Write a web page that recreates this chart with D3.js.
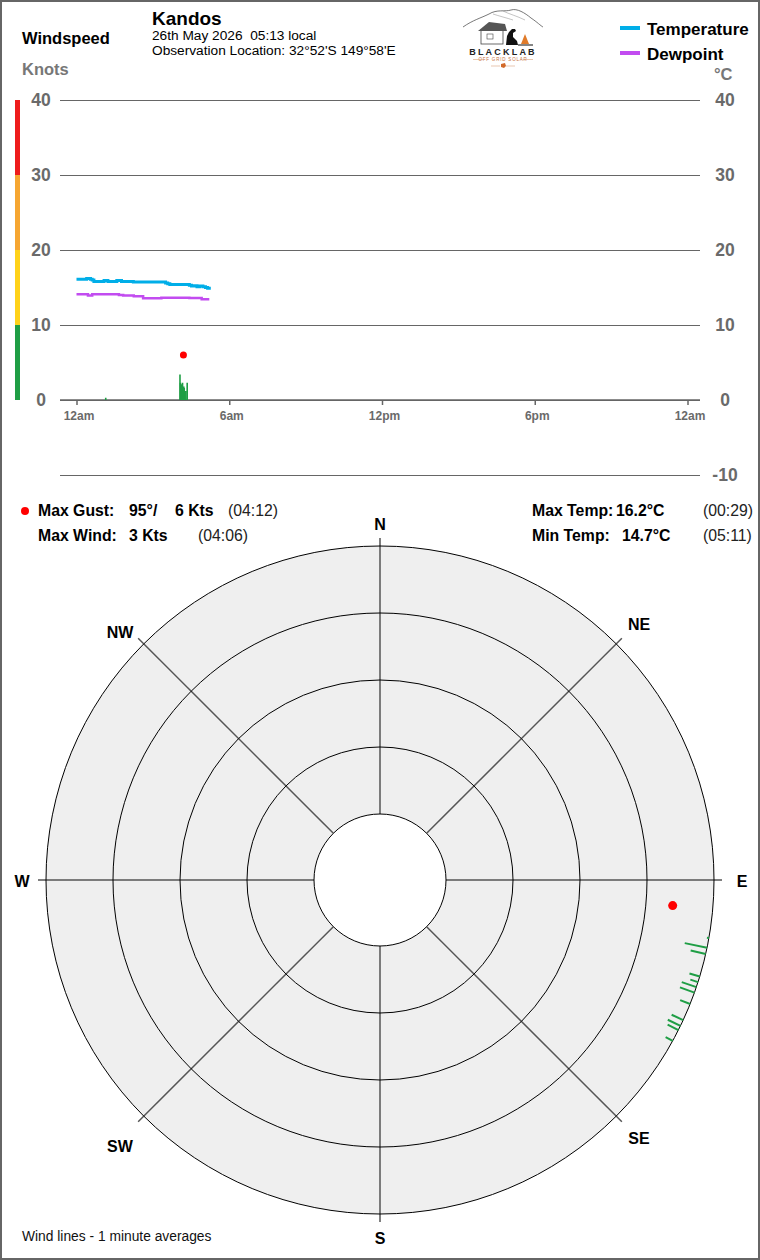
<!DOCTYPE html>
<html>
<head>
<meta charset="utf-8">
<script src="https://cdn.jsdelivr.net/npm/d3@7"></script>
<style>
  html, body { margin: 0; padding: 0; background: #fff; }
  svg { display: block; }
  text { font-family: "Liberation Sans", Arial, sans-serif; white-space: pre; }
</style>
</head>
<body>
<script>
// ---------------- DATA ----------------
const stationName = "Kandos";
const dateLine = "26th May 2026  05:13 local";
const locationLine = "Observation Location: 32°52'S 149°58'E";

const speedTicks = [0, 10, 20, 30, 40];
const tempTicks = [-10, 0, 10, 20, 30, 40];
const bandColors = ["#1f9e45", "#ffd21a", "#f6a631", "#ee1c1c"]; // 0-10,10-20,20-30,30-40

const hourTicks = [0, 6, 12, 18, 24];
const hourLabels = ["12am", "6am", "12pm", "6pm", "12am"];

const tempTimes = ["00:00","00:20","00:24","00:33","00:37","00:41","01:05","01:14","01:35","01:46","02:14","03:30","03:35","03:40","04:26","04:31","04:38","04:44","04:50","04:58","05:04","05:09","05:13"];
const tempValues = [16.1,16.1,16.2,16.1,16.0,15.8,15.95,15.8,15.95,15.8,15.75,15.6,15.5,15.4,15.3,15.2,15.25,15.1,15.2,15.1,15.0,14.9,14.7];

const dewTimes = ["00:00","00:27","00:37","01:40","01:50","02:15","02:37","03:20","04:26","04:55","05:13"];
const dewValues = [14.1,13.95,14.1,14.0,13.95,13.82,13.58,13.65,13.6,13.42,13.42];

const windTimes = ["01:07","04:02","04:03","04:05","04:06","04:08","04:09","04:11","04:12","04:14","04:16","04:19"];
const windSpeeds = [0.3,3.4,2.3,2.1,1.9,2.3,1.6,1.8,1.6,1.2,1.2,2.3];
const windDirs = [100,101.7,102.8,115.9,114.8,109.7,106.8,116.7,111.8,107.8,118.8,108.7];

const gustTime = "04:12";
const gustSpeed = 6;
const gustDir = 95;

const statsLeft = [
  {label: "Max Gust:", value: "95°/", value2: "6 Kts", time: "(04:12)"},
  {label: "Max Wind:", value: "3 Kts", value2: "", time: "(04:06)"}
];
const statsRight = [
  {label: "Max Temp:", value: "16.2°C", time: "(00:29)"},
  {label: "Min Temp:", value: "14.7°C", time: "(05:11)"}
];

const compassLabels = ["N","NE","E","SE","S","SW","W","NW"];
const compassBearings = [0,45,90,135,180,225,270,315];
const ringSpeeds = [0, 10, 20, 30, 40];

// ---------------- HELPERS ----------------
const toHours = s => { const [h, m] = s.split(":").map(Number); return h + m / 60; };

const W = 760, H = 1260;
const svg = d3.select("body").append("svg").attr("width", W).attr("height", H);

svg.append("rect").attr("x", 1).attr("y", 1).attr("width", W - 2).attr("height", H - 2)
  .attr("fill", "#fff").attr("stroke", "#666").attr("stroke-width", 2);

// ---------------- TOP CHART ----------------
const x = d3.scaleLinear().domain([0, 24]).range([76.5, 687.5]);
const y = d3.scaleLinear().domain([-10, 40]).range([475, 100]);

// grid lines
svg.append("g").selectAll("line").data(tempTicks).join("line")
  .attr("x1", 60).attr("x2", 700)
  .attr("y1", d => y(d)).attr("y2", d => y(d))
  .attr("stroke", "#666").attr("stroke-width", 1).attr("shape-rendering", "crispEdges");

// color band
const bands = d3.range(bandColors.length).map(i => ({lo: speedTicks[i], hi: speedTicks[i + 1], c: bandColors[i]}));
svg.append("g").selectAll("rect").data(bands).join("rect")
  .attr("x", 15).attr("width", 5)
  .attr("y", d => y(d.hi)).attr("height", d => y(d.lo) - y(d.hi))
  .attr("fill", d => d.c);

// left labels
svg.append("g").selectAll("text").data(speedTicks).join("text")
  .attr("x", 41).attr("y", d => y(d) + 6).attr("text-anchor", "middle")
  .attr("font-size", 17.5).attr("font-weight", "bold").attr("fill", "#6a6a6a").text(d => d);

// right labels
svg.append("g").selectAll("text").data(tempTicks).join("text")
  .attr("x", 725).attr("y", d => y(d) + 6).attr("text-anchor", "middle")
  .attr("font-size", 17.5).attr("font-weight", "bold").attr("fill", "#6a6a6a").text(d => d);

// x axis
const xAxis = d3.axisBottom(x).tickValues(hourTicks).tickSize(5).tickFormat((d, i) => hourLabels[i]);
const gx = svg.append("g").attr("transform", `translate(0,${y(0)})`).call(xAxis);
gx.select(".domain").remove();
gx.selectAll(".tick line").attr("stroke", "#666").attr("stroke-width", 1.5);
gx.selectAll(".tick text").attr("fill", "#6a6a6a").attr("font-size", 12).attr("font-weight", "bold")
  .attr("font-family", "'DejaVu Sans Condensed', 'Liberation Sans Narrow', sans-serif")
  .attr("dy", "1.0em").attr("dx", 2);
svg.append("line").attr("x1", 60).attr("x2", 700).attr("y1", y(0)).attr("y2", y(0))
  .attr("stroke", "#666").attr("stroke-width", 1.5);

// wind bars
const windData = windTimes.map((t, i) => ({h: toHours(t), s: windSpeeds[i], d: windDirs[i]}));
svg.append("g").selectAll("rect").data(windData).join("rect")
  .attr("x", d => x(d.h)).attr("width", 1.6)
  .attr("y", d => y(d.s)).attr("height", d => y(0) - y(d.s))
  .attr("fill", "#1f9e45");

// temperature & dewpoint lines
const line = d3.line().x(d => x(d.h)).y(d => y(d.v)).curve(d3.curveStepAfter);
const tempData = tempTimes.map((t, i) => ({h: toHours(t), v: tempValues[i]}));
const dewData = dewTimes.map((t, i) => ({h: toHours(t), v: dewValues[i]}));
svg.append("path").datum(dewData).attr("d", line).attr("fill", "none")
  .attr("stroke", "#c24cf0").attr("stroke-width", 2.5);
svg.append("path").datum(tempData).attr("d", line).attr("fill", "none")
  .attr("stroke", "#00aee8").attr("stroke-width", 3);

// gust dot
svg.append("circle").attr("cx", x(toHours(gustTime))).attr("cy", y(gustSpeed)).attr("r", 3.5).attr("fill", "#ff0000");

// ---------------- HEADER ----------------
svg.append("text").attr("x", 22).attr("y", 44).attr("font-size", 16.5).attr("font-weight", "bold").text("Windspeed");
svg.append("text").attr("x", 22).attr("y", 75).attr("font-size", 16.5).attr("font-weight", "bold").attr("fill", "#777").text("Knots");
svg.append("text").attr("x", 152).attr("y", 25).attr("font-size", 19).attr("font-weight", "bold").text(stationName);
svg.append("text").attr("x", 152).attr("y", 40).attr("font-size", 13.7).text(dateLine);
svg.append("text").attr("x", 152).attr("y", 55).attr("font-size", 13.7).text(locationLine);
svg.append("text").attr("x", 714).attr("y", 80).attr("font-size", 16.5).attr("font-weight", "bold").attr("fill", "#777").text("°C");

// legend
const legend = [{name: "Temperature", c: "#00aee8", yy: 28}, {name: "Dewpoint", c: "#c24cf0", yy: 53}];
const lg = svg.append("g").selectAll("g").data(legend).join("g");
lg.append("rect").attr("x", 620).attr("y", d => d.yy - 2).attr("width", 20).attr("height", 4).attr("fill", d => d.c);
lg.append("text").attr("x", 647).attr("y", d => d.yy + 7).attr("font-size", 17).attr("font-weight", "bold").text(d => d.name);

// logo (simplified)
const logo = svg.append("g").attr("transform", "translate(503,0)");
logo.append("path").attr("d", "M-40,27 C-30,20 -22,18 -14,14 C-6,9 2,12 8,10 C14,8 22,13 28,18 C34,22 38,26 40,27")
  .attr("fill", "none").attr("stroke", "#555").attr("stroke-width", 0.8);
logo.append("path").attr("d", "M-10,14 C-4,16 4,18 10,20 M0,11 C6,14 14,16 22,20")
  .attr("fill", "none").attr("stroke", "#888").attr("stroke-width", 0.5);
logo.append("rect").attr("x", -22).attr("y", 30).attr("width", 22).attr("height", 14).attr("fill", "#fff").attr("stroke", "#444").attr("stroke-width", 0.8);
logo.append("path").attr("d", "M-25,31 L-14,22 L2,24 L4,31 Z").attr("fill", "#555");
logo.append("rect").attr("x", -16).attr("y", 34).attr("width", 6).attr("height", 5).attr("fill", "none").attr("stroke", "#444").attr("stroke-width", 0.6);
logo.append("path").attr("d", "M3,45 L4,36 L6,32 L9,29 L12,29 L13,31 L10,33 L10,37 L14,41 L15,45 Z").attr("fill", "#111");
logo.append("path").attr("d", "M18,44 L22,34 L26,44 Z").attr("fill", "#e07b2a");
logo.append("path").attr("d", "M15,45 L30,45").attr("stroke", "#333").attr("stroke-width", 1.2);
logo.append("text").attr("x", 0).attr("y", 55).attr("text-anchor", "middle")
  .attr("font-family", "'Liberation Serif', 'DejaVu Serif', serif").attr("font-size", 9).attr("font-weight", "bold")
  .attr("letter-spacing", 2.2).attr("fill", "#222").text("BLACKLAB");
logo.append("text").attr("x", 0).attr("y", 61).attr("text-anchor", "middle")
  .attr("font-size", 4.5).attr("letter-spacing", 0.8).attr("fill", "#c8713a").text("OFF GRID SOLAR");
logo.append("path").attr("d", "M-30,59.5 L-20,59.5 M20,59.5 L30,59.5 M-12,66 L-3,66 M3,66 L12,66")
  .attr("stroke", "#d9a27c").attr("stroke-width", 0.6);
logo.append("path").attr("d", "M-2,64 L2,63 L3,66 L1,68 L-2,67 Z").attr("fill", "#d26a2a");

// ---------------- STATS ----------------
const statSize = 15.8;
svg.append("circle").attr("cx", 25).attr("cy", 511).attr("r", 4).attr("fill", "#ff0000");
const sl = svg.append("g").selectAll("g").data(statsLeft).join("g")
  .attr("transform", (d, i) => `translate(0,${516 + i * 25})`);
sl.append("text").attr("x", 38).attr("font-size", statSize).attr("font-weight", "bold").text(d => d.label);
sl.append("text").attr("x", 129).attr("font-size", statSize).attr("font-weight", "bold").text(d => d.value);
sl.append("text").attr("x", 175).attr("font-size", statSize).attr("font-weight", "bold").text(d => d.value2);
sl.append("text").attr("x", (d, i) => i === 0 ? 228 : 198).attr("font-size", statSize).attr("fill", "#222").text(d => d.time);

const sr = svg.append("g").selectAll("g").data(statsRight).join("g")
  .attr("transform", (d, i) => `translate(0,${516 + i * 25})`);
sr.append("text").attr("x", 532).attr("font-size", statSize).attr("font-weight", "bold").text(d => d.label);
sr.append("text").attr("x", (d, i) => i === 0 ? 616 : 622).attr("font-size", statSize).attr("font-weight", "bold").text(d => d.value);
sr.append("text").attr("x", 703).attr("font-size", statSize).attr("fill", "#222").text(d => d.time);

// ---------------- POLAR ----------------
const cx = 380, cy = 880;
const r = d3.scaleLinear().domain([0, 40]).range([334, 66]);
const pt = (bearing, rad) => {
  const a = bearing * Math.PI / 180;
  return [cx + rad * Math.sin(a), cy - rad * Math.cos(a)];
};

const polar = svg.append("g");
polar.append("circle").attr("cx", cx).attr("cy", cy).attr("r", r(0)).attr("fill", "#efefef").attr("stroke", "none");

// direction lines
const lineOuter = 342;
polar.append("g").selectAll("line").data(compassBearings).join("line")
  .attr("x1", d => pt(d, r(40))[0]).attr("y1", d => pt(d, r(40))[1])
  .attr("x2", d => pt(d, lineOuter)[0]).attr("y2", d => pt(d, lineOuter)[1])
  .attr("stroke", "#555").attr("stroke-width", 1.5);

// rings
polar.append("g").selectAll("circle").data(ringSpeeds).join("circle")
  .attr("cx", cx).attr("cy", cy).attr("r", d => r(d))
  .attr("fill", d => d === 40 ? "#fff" : "none")
  .attr("stroke", "#000").attr("stroke-width", 1);

// compass labels
const labelPos = {N: [380, 530], NE: [639, 630], E: [742, 887], SE: [639, 1144], S: [380, 1244], SW: [120, 1152], W: [22, 887], NW: [120, 638]};
polar.append("g").selectAll("text").data(compassLabels).join("text")
  .attr("x", d => labelPos[d][0]).attr("y", d => labelPos[d][1])
  .attr("text-anchor", "middle").attr("font-size", 16).attr("font-weight", "bold").text(d => d);

// wind lines
polar.append("g").selectAll("line").data(windData).join("line")
  .attr("x1", d => pt(d.d, r(0))[0]).attr("y1", d => pt(d.d, r(0))[1])
  .attr("x2", d => pt(d.d, r(d.s))[0]).attr("y2", d => pt(d.d, r(d.s))[1])
  .attr("stroke", "#1f9e45").attr("stroke-width", 2);

// gust dot
const gp = pt(gustDir, r(gustSpeed));
polar.append("circle").attr("cx", gp[0]).attr("cy", gp[1]).attr("r", 4.5).attr("fill", "#ff0000");

svg.append("text").attr("x", 22).attr("y", 1241).attr("font-size", 13.8).attr("fill", "#111").text("Wind lines - 1 minute averages");
</script>
</body>
</html>
